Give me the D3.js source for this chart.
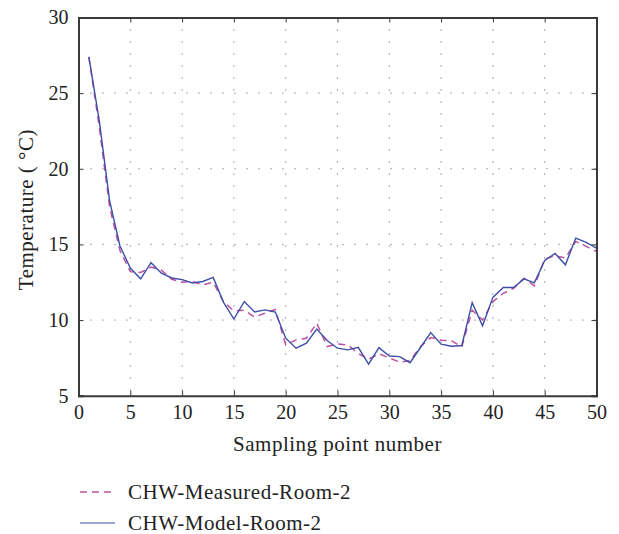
<!DOCTYPE html>
<html>
<head>
<meta charset="utf-8">
<script src="https://cdn.jsdelivr.net/npm/d3@7"></script>
<style>
  body { margin: 0; background: #fff; }
  svg { display: block; }
</style>
</head>
<body>
<div id="chart"></div>
<script>
// sampling points 1..50
const samplePoints = d3.range(1, 51);

const measuredRoom2 = [
  27.4, 22.8, 17.5, 14.6, 13.2, 13.15, 13.5, 13.3, 12.7, 12.5,
  12.55, 12.33, 12.5, 11.2, 10.6, 10.65, 10.2, 10.45, 10.7, 8.36,
  8.69, 8.8, 9.79, 8.25, 8.42, 8.36, 7.8, 7.41, 7.77, 7.5,
  7.22, 7.31, 8.24, 8.85, 8.67, 8.63, 8.23, 10.66, 10.0, 11.22,
  11.77, 12.1, 12.77, 12.26, 14.03, 14.25, 14.1, 15.2, 14.87, 14.54
];

const modelRoom2 = [
  27.4, 23.2, 17.9, 14.9, 13.44, 12.73, 13.79, 13.1, 12.78, 12.67,
  12.45, 12.55, 12.82, 11.17, 10.07, 11.22, 10.53, 10.67, 10.53, 8.8,
  8.14, 8.47, 9.41, 8.65, 8.14, 8.03, 8.2, 7.08, 8.18, 7.62,
  7.58, 7.18, 8.17, 9.17, 8.41, 8.27, 8.32, 11.15, 9.62, 11.5,
  12.15, 12.15, 12.72, 12.46, 13.94, 14.4, 13.65, 15.42, 15.13, 14.76
];

const xTicks = [0, 5, 10, 15, 20, 25, 30, 35, 40, 45, 50];
const yTicks = [5, 10, 15, 20, 25, 30];

const seriesNames = ["CHW-Measured-Room-2", "CHW-Model-Room-2"];

const width = 619, height = 534;
const margin = { left: 78.5, right: 619 - 596.5, top: 17.5, bottom: 534 - 395.7 };
const innerW = width - margin.left - margin.right;
const innerH = height - margin.top - margin.bottom;

const font = "'Liberation Serif', 'DejaVu Serif', serif";
const axisColor = "#3a3a3a";
const pink = "#c050a0";
const blue = "#3d4fa6";

const svg = d3.select("#chart").append("svg")
    .attr("width", width)
    .attr("height", height);

const x = d3.scaleLinear().domain([0, 50]).range([margin.left, margin.left + innerW]);
const y = d3.scaleLinear().domain([5, 30]).range([margin.top + innerH, margin.top]);

// dotted grid
const grid = svg.append("g");
grid.selectAll(".gx")
    .data(xTicks.slice(1, -1))
    .enter().append("line")
    .attr("x1", d => x(d)).attr("x2", d => x(d))
    .attr("y1", y(30)).attr("y2", y(5))
    .attr("stroke", "#555")
    .attr("stroke-width", 1)
    .attr("stroke-dasharray", "1,11");
grid.selectAll(".gy")
    .data(yTicks.slice(1, -1))
    .enter().append("line")
    .attr("x1", x(0)).attr("x2", x(50))
    .attr("y1", d => y(d)).attr("y2", d => y(d))
    .attr("stroke", "#555")
    .attr("stroke-width", 1)
    .attr("stroke-dasharray", "1,11");

// lines
const line = d3.line()
    .x((d, i) => x(samplePoints[i]))
    .y(d => y(d));

svg.append("path")
    .datum(measuredRoom2)
    .attr("fill", "none")
    .attr("stroke", pink)
    .attr("stroke-width", 1.5)
    .attr("stroke-dasharray", "7,5")
    .attr("d", line);

svg.append("path")
    .datum(modelRoom2)
    .attr("fill", "none")
    .attr("stroke", blue)
    .attr("stroke-width", 1.4)
    .attr("d", line);

// axes (box with inward ticks)
const xAxis = svg.append("g")
    .attr("transform", `translate(0,${y(5)})`)
    .call(d3.axisBottom(x).tickValues(xTicks).tickSize(-5).tickPadding(9).tickFormat(d3.format("d")));
const xAxisTop = svg.append("g")
    .attr("transform", `translate(0,${y(30)})`)
    .call(d3.axisTop(x).tickValues(xTicks).tickSize(-5).tickFormat(""));
const yAxis = svg.append("g")
    .attr("transform", `translate(${x(0)},0)`)
    .call(d3.axisLeft(y).tickValues(yTicks).tickSize(-5).tickPadding(10).tickFormat(d3.format("d")));
const yAxisRight = svg.append("g")
    .attr("transform", `translate(${x(50)},0)`)
    .call(d3.axisRight(y).tickValues(yTicks).tickSize(-5).tickFormat(""));

[xAxis, xAxisTop, yAxis, yAxisRight].forEach(g => {
    g.select(".domain").attr("stroke", axisColor).attr("stroke-width", 2);
    g.selectAll(".tick line").attr("stroke", axisColor).attr("stroke-width", 1);
    g.selectAll(".tick text")
        .attr("fill", "#222")
        .style("font-family", font)
        .style("font-size", "20px");
});

// axis titles
svg.append("text")
    .attr("x", x(25))
    .attr("y", 451)
    .attr("text-anchor", "middle")
    .attr("fill", "#222")
    .style("font-family", font)
    .style("font-size", "21px")
    .style("letter-spacing", "0.5px")
    .text("Sampling point number");

svg.append("text")
    .attr("transform", `translate(33,${y(17.3)}) rotate(-90)`)
    .attr("text-anchor", "middle")
    .attr("fill", "#222")
    .style("font-family", font)
    .style("font-size", "21px")
    .style("letter-spacing", "0.5px")
    .text("Temperature ( °C)");

// legend
const legend = svg.append("g");
const legendRows = [
    { name: seriesNames[0], color: pink, dash: "7,5", w: 1.5 },
    { name: seriesNames[1], color: blue, dash: null, w: 1.2 }
];
legendRows.forEach((r, i) => {
    const ly = 492 + i * 31;
    legend.append("line")
        .attr("x1", 80).attr("x2", 115)
        .attr("y1", ly).attr("y2", ly)
        .attr("stroke", r.color)
        .attr("stroke-width", r.w)
        .attr("stroke-dasharray", r.dash);
    legend.append("text")
        .attr("x", 128)
        .attr("y", ly)
        .attr("dy", "0.35em")
        .attr("fill", "#222")
        .style("font-family", font)
        .style("font-size", "21px")
        .style("letter-spacing", "0.5px")
        .text(r.name);
});
</script>
</body>
</html>
